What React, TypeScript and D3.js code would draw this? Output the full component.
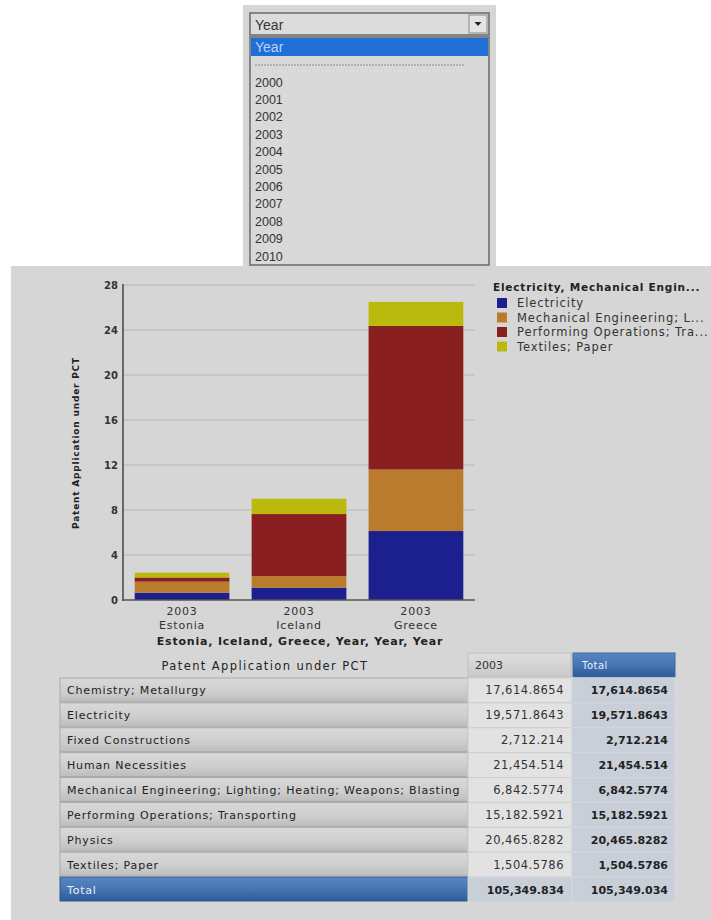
import React from "react";
import * as d3 from "d3";

// Dropdown contents
const dropdownTitle = "Year";
const yearOptions = ["2000", "2001", "2002", "2003", "2004", "2005", "2006", "2007", "2008", "2009", "2010"];

// Chart data: patent applications under PCT, 2003
const countries = ["Estonia", "Iceland", "Greece"];
const yearLabel = "2003";
const seriesNames = [
  "Electricity",
  "Mechanical Engineering; Lighting; Heating; Weapons; Blasting",
  "Performing Operations; Transporting",
  "Textiles; Paper",
];
const legendTitle = "Electricity, Mechanical Engin...";
const legendLabels = ["Electricity", "Mechanical Engineering; L...", "Performing Operations; Tra...", "Textiles; Paper"];
const electricity = [0.65, 1.1, 6.13];
const mechanical = [0.98, 1.03, 5.47];
const performing = [0.37, 5.51, 12.76];
const textiles = [0.43, 1.36, 2.14];
const yTicks = [0, 4, 8, 12, 16, 20, 24, 28];
const seriesColors = ["#1c1f8e", "#bb7b2c", "#8a1f1f", "#b9b90e"];

// Pivot table
const tableTitle = "Patent Application under PCT";
const tableColumns = ["2003", "Total"];
const tableRows = [
  "Chemistry; Metallurgy",
  "Electricity",
  "Fixed Constructions",
  "Human Necessities",
  "Mechanical Engineering; Lighting; Heating; Weapons; Blasting",
  "Performing Operations; Transporting",
  "Physics",
  "Textiles; Paper",
];
const values2003 = ["17,614.8654", "19,571.8643", "2,712.214", "21,454.514", "6,842.5774", "15,182.5921", "20,465.8282", "1,504.5786"];
const valuesTotal = ["17,614.8654", "19,571.8643", "2,712.214", "21,454.514", "6,842.5774", "15,182.5921", "20,465.8282", "1,504.5786"];
const grandTotal2003 = "105,349.834";
const grandTotal = "105,349.034";

const UI_FONT = "'Liberation Sans', Arial, sans-serif";
const FONT = "'DejaVu Sans', Verdana, sans-serif";

export default function App() {
  const series = [electricity, mechanical, performing, textiles];
  const stackData = countries.map((c, i) => {
    const row: Record<string, number | string> = { country: c };
    seriesNames.forEach((s, k) => (row[s] = series[k][i]));
    return row;
  });
  const stacked = d3.stack<any>().keys(seriesNames)(stackData);

  const x = d3.scaleBand<string>().domain(countries).range([123, 475]).paddingInner(0.19).paddingOuter(0.1);
  const y = d3.scaleLinear().domain([0, 28]).range([600, 285]);

  // dropdown geometry
  const ddLeft = 250, ddRight = 489;
  const optY = d3.scaleLinear().domain([0, yearOptions.length - 1]).range([82, 256]);

  // table geometry
  const colX = [468, 572, 675];
  const rowY = d3.scaleBand<number>().domain(d3.range(tableRows.length + 1)).range([678, 902]);

  return (
    <svg width={711} height={920} style={{ position: "absolute", left: 0, top: 0 }} fontFamily={FONT}>
      <defs>
        <linearGradient id="labelGrad" x1="0" y1="0" x2="0" y2="1">
          <stop offset="0" stopColor="#d9d9d9" />
          <stop offset="0.6" stopColor="#cdcdcd" />
          <stop offset="1" stopColor="#bcbcbc" />
        </linearGradient>
        <linearGradient id="blueGrad" x1="0" y1="0" x2="0" y2="1">
          <stop offset="0" stopColor="#5a86c0" />
          <stop offset="0.5" stopColor="#4675b3" />
          <stop offset="1" stopColor="#2e5a98" />
        </linearGradient>
        <linearGradient id="headGrad" x1="0" y1="0" x2="0" y2="1">
          <stop offset="0" stopColor="#dedede" />
          <stop offset="1" stopColor="#c9c9c9" />
        </linearGradient>
        <clipPath id="panelClip">
          <rect x={11} y={266} width={700} height={654} />
        </clipPath>
      </defs>
      <rect width={711} height={920} fill="#ffffff" />

      {/* Year dropdown */}
      <g fontFamily={UI_FONT}>
        <rect x={243} y={5} width={253} height={262} fill="#d6d6d6" />
        <rect x={ddLeft} y={13} width={ddRight - ddLeft} height={22} fill="#dcdcdc" stroke="#6a6a6a" strokeWidth={1.5} />
        <rect x={469} y={15} width={18} height={18} fill="#e4e4e4" stroke="#8a8a8a" />
        <path d="M474.5,22 L481.5,22 L478,26 Z" fill="#222" />
        <text x={255} y={30} fontSize={14} fill="#333">{dropdownTitle}</text>
        <rect x={ddLeft} y={37} width={ddRight - ddLeft} height={228} fill="#d9d9d9" stroke="#6a6a6a" strokeWidth={1.5} />
        <rect x={ddLeft + 1} y={38} width={ddRight - ddLeft - 2} height={18} fill="#1f6fd6" />
        <text x={255} y={52} fontSize={14} fill="#b9d4f7">{dropdownTitle}</text>
        <line x1={255} x2={465} y1={65} y2={65} stroke="#8a8a8a" strokeDasharray="2,1" />
        {yearOptions.map((yr, i) => (
          <text key={yr} x={255} y={optY(i) + 4.5} fontSize={12.5} fill="#333">{yr}</text>
        ))}
      </g>

      {/* Report panel */}
      <rect x={11} y={266} width={700} height={654} fill="#d6d6d6" />

      {/* gridlines */}
      {yTicks.slice(1).map((t) => (
        <line key={t} x1={123} x2={475} y1={y(t)} y2={y(t)} stroke="#b6b6b6" strokeWidth={1.2} />
      ))}
      {/* bars */}
      {stacked.map((layer, k) => (
        <g key={layer.key} fill={seriesColors[k]}>
          {layer.map((d, i) => (
            <rect key={i} x={x(countries[i])} width={x.bandwidth()} y={y(d[1])} height={y(d[0]) - y(d[1])} />
          ))}
        </g>
      ))}
      {/* axes */}
      <line x1={123} x2={123} y1={284} y2={601} stroke="#444" strokeWidth={1.5} />
      <line x1={122} x2={475} y1={600} y2={600} stroke="#555" strokeWidth={1.5} />
      {yTicks.map((t) => (
        <text key={t} x={118} y={y(t) + 3.5} fontSize={10} fontWeight="bold" textAnchor="end" fill="#333">{t}</text>
      ))}
      {countries.map((c) => {
        const cx = (x(c) ?? 0) + x.bandwidth() / 2;
        return (
          <g key={c} fontSize={11} textAnchor="middle" fill="#333" letterSpacing={0.8}>
            <text x={cx} y={615}>{yearLabel}</text>
            <text x={cx} y={629}>{c}</text>
          </g>
        );
      })}
      <text x={300} y={645} fontSize={11} fontWeight="bold" textAnchor="middle" fill="#222" letterSpacing={0.8}>
        {countries.join(", ") + ", Year, Year, Year"}
      </text>
      <text transform="translate(79,443) rotate(-90)" fontSize={9} fontWeight="bold" textAnchor="middle" fill="#222" letterSpacing={0.8}>
        {tableTitle}
      </text>

      {/* legend */}
      <g clipPath="url(#panelClip)">
        <text x={493} y={291} fontSize={10.5} fontWeight="bold" fill="#222" letterSpacing={0.8}>{legendTitle}</text>
        {legendLabels.map((l, i) => (
          <g key={l}>
            <rect x={497} y={298 + i * 14.5} width={10} height={10} fill={seriesColors[i]} />
            <text x={517} y={307 + i * 14.5} fontSize={11.5} fill="#333" letterSpacing={0.9}>{l}</text>
          </g>
        ))}
      </g>

      {/* pivot table */}
      <text x={265} y={670} fontSize={11.5} textAnchor="middle" fill="#222" letterSpacing={1.4}>{tableTitle}</text>
      <rect x={colX[0]} y={653} width={colX[1] - colX[0] - 1} height={24} fill="url(#headGrad)" stroke="#bdbdbd" />
      <text x={475} y={669} fontSize={11} fill="#333">{tableColumns[0]}</text>
      <rect x={colX[1] + 1} y={653} width={colX[2] - colX[1] - 1} height={24} fill="url(#blueGrad)" stroke="#3a6aa8" />
      <text x={582} y={669} fontSize={10} fill="#e8f0fb" letterSpacing={0.5}>{tableColumns[1]}</text>
      {tableRows.map((r, i) => {
        const ry = rowY(i) ?? 0;
        const h = rowY.bandwidth();
        return (
          <g key={r}>
            <rect x={60} y={ry} width={colX[0] - 60} height={h - 1} fill="url(#labelGrad)" stroke="#a9a9a9" strokeWidth={1} />
            <text x={67} y={ry + h / 2 + 4} fontSize={11} fill="#222" letterSpacing={0.85}>{r}</text>
            <rect x={colX[0]} y={ry} width={colX[1] - colX[0]} height={h} fill="#e2e2e2" stroke="#cfcfcf" />
            <text x={colX[1] - 8} y={ry + h / 2 + 4} fontSize={11.5} textAnchor="end" fill="#333" letterSpacing={0.5}>{values2003[i]}</text>
            <rect x={colX[1]} y={ry} width={colX[2] - colX[1]} height={h} fill="#c9cfd9" stroke="#d3d7de" />
            <text x={colX[2] - 7} y={ry + h / 2 + 4} fontSize={11} fontWeight="bold" textAnchor="end" fill="#222">{valuesTotal[i]}</text>
          </g>
        );
      })}
      {(() => {
        const ry = rowY(tableRows.length) ?? 0;
        const h = rowY.bandwidth();
        return (
          <g>
            <rect x={60} y={ry} width={colX[0] - 60} height={h - 1} fill="url(#blueGrad)" stroke="#2f5a96" />
            <text x={67} y={ry + h / 2 + 4} fontSize={11} fill="#e8f0fb" letterSpacing={0.8}>Total</text>
            <rect x={colX[0]} y={ry} width={colX[1] - colX[0]} height={h} fill="#c9cfd9" stroke="#d3d7de" />
            <text x={colX[1] - 8} y={ry + h / 2 + 4} fontSize={11} fontWeight="bold" textAnchor="end" fill="#222">{grandTotal2003}</text>
            <rect x={colX[1]} y={ry} width={colX[2] - colX[1]} height={h} fill="#c9cfd9" stroke="#d3d7de" />
            <text x={colX[2] - 7} y={ry + h / 2 + 4} fontSize={11} fontWeight="bold" textAnchor="end" fill="#222">{grandTotal}</text>
          </g>
        );
      })()}
    </svg>
  );
}
